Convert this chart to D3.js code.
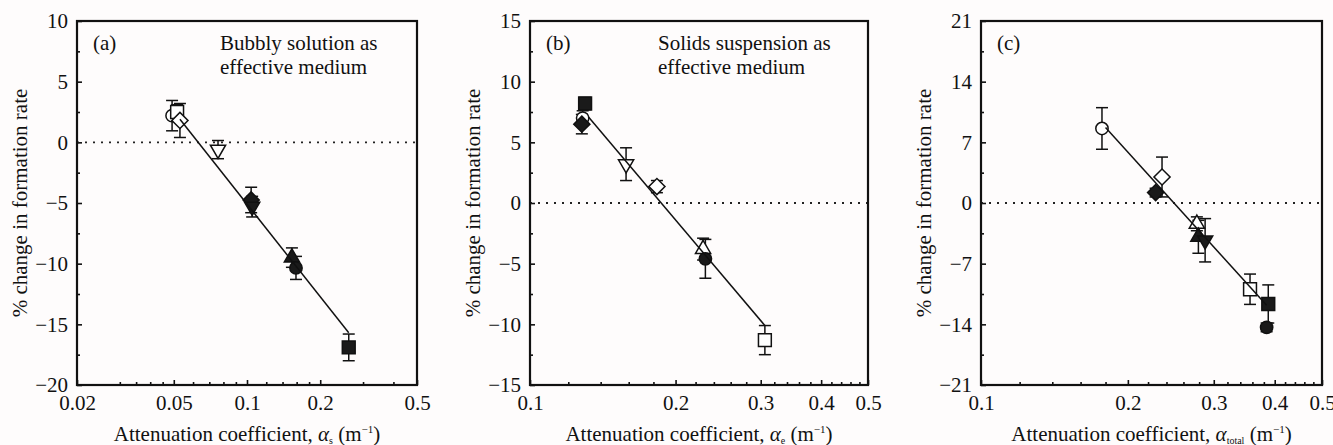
<!DOCTYPE html>
<html lang="en">
  <head>
    <meta charset="utf-8">
    <title>Formation rate vs attenuation</title>
    <script src="https://d3js.org/d3.v7.min.js"></script>
    <style>
      body { margin: 0; background: #fefcfc; }
    </style>
  </head>
  <body>
    <script>
      // panel (a): bubbly solution
      var aShape = ["oCircle", "oSquare", "oDiamond", "oTriDown", "fDiamond", "fTriDown", "fTriUp", "fCircle", "fSquare"],
          aX     = [0.0492, 0.0516, 0.053, 0.076, 0.104, 0.105, 0.153, 0.159, 0.262],
          aY     = [2.2, 2.5, 1.8, -0.6, -4.75, -5.3, -9.5, -10.35, -16.9],
          aErr   = [1.25, 0.6, 1.4, 0.75, 1.05, 0.85, 0.8, 0.95, 1.1],
          aFitX  = [0.053, 0.262],
          aFitY  = [1.9, -15.7];

      // panel (b): solids suspension
      var bShape = ["fSquare", "oCircle", "fDiamond", "oTriDown", "oDiamond", "oTriUp", "fCircle", "oSquare"],
          bX     = [0.130, 0.1285, 0.128, 0.158, 0.183, 0.228, 0.2305, 0.306],
          bY     = [8.2, 7.0, 6.5, 3.2, 1.35, -3.8, -4.6, -11.3],
          bErr   = [0.5, 0.6, 0.8, 1.35, 0.5, 0.9, 1.6, 1.2],
          bFitX  = [0.132, 0.306],
          bFitY  = [7.1, -10.1];

      // panel (c): total
      var cShape = ["oCircle", "oDiamond", "fDiamond", "oTriUp", "fTriUp", "fTriDown", "oSquare", "fSquare", "fCircle"],
          cX     = [0.177, 0.235, 0.228, 0.277, 0.279, 0.288, 0.356, 0.388, 0.385],
          cY     = [8.6, 3.0, 1.2, -2.4, -3.9, -4.3, -9.95, -11.65, -14.35],
          cErr   = [2.4, 2.3, 0.5, 0.8, 1.9, 2.5, 1.75, 2.2, 0.5],
          cFitX  = [0.18, 0.385],
          cFitY  = [8.7, -11.8];

      var aXTicks = [0.02, 0.05, 0.1, 0.2, 0.5],
          aXMinor = [0.03, 0.035, 0.04, 0.045, 0.06, 0.07, 0.08, 0.09, 0.12, 0.14, 0.16, 0.18, 0.3, 0.4],
          bXTicks = [0.1, 0.2, 0.3, 0.4, 0.5],
          bXMinor = [0.12, 0.14, 0.16, 0.18, 0.22, 0.24, 0.26, 0.28, 0.32, 0.34, 0.36, 0.38, 0.42, 0.44, 0.46, 0.48],
          aYTicks = [10, 5, 0, -5, -10, -15, -20],
          aYMinor = [7.5, 2.5, -2.5, -7.5, -12.5, -17.5],
          bYTicks = [15, 10, 5, 0, -5, -10, -15],
          bYMinor = [12.5, 7.5, 2.5, -2.5, -7.5, -12.5],
          cYTicks = [21, 14, 7, 0, -7, -14, -21],
          cYMinor = [17.5, 10.5, 3.5, -3.5, -10.5, -17.5];

      var width = 1333, height = 445,
          serif = "Liberation Serif",
          fs = 21;

      var svg = d3.select("body").append("svg")
          .attr("width", width)
          .attr("height", height)
          .attr("font-family", serif);

      var symbols = {
        Circle:  { type: d3.symbolCircle,   size: 120, rot: 0 },
        Square:  { type: d3.symbolSquare,   size: 165, rot: 0 },
        Diamond: { type: d3.symbolSquare,   size: 130, rot: 45 },
        TriUp:   { type: d3.symbolTriangle, size: 100, rot: 0 },
        TriDown: { type: d3.symbolTriangle, size: 100, rot: 180 }
      };

      function drawPanel(p) {
        var top = 21, bottom = 385;
        var x = d3.scaleLog().domain(p.xDomain).range([p.left, p.right]),
            y = d3.scaleLinear().domain(p.yDomain).range([bottom, top]);

        var g = svg.append("g");

        function tidy(s) {
          s.select(".domain").remove();
          s.attr("font-family", serif).attr("font-size", fs);
          s.selectAll("text").attr("font-family", serif).attr("font-size", fs).attr("fill", "#111");
        }

        // x axis, ticks pointing inside
        g.append("g")
            .attr("transform", "translate(0," + bottom + ")")
            .call(d3.axisBottom(x).tickValues(p.xMinor).tickSize(-3).tickFormat(""))
            .call(tidy);
        g.append("g")
            .attr("transform", "translate(0," + bottom + ")")
            .call(d3.axisBottom(x).tickValues(p.xTicks).tickSize(-5).tickPadding(10)
              .tickFormat(function(d) { return String(d); }))
            .call(tidy);

        // y axis
        g.append("g")
            .attr("transform", "translate(" + p.left + ",0)")
            .call(d3.axisLeft(y).tickValues(p.yMinor).tickSize(-3).tickFormat(""))
            .call(tidy);
        g.append("g")
            .attr("transform", "translate(" + p.left + ",0)")
            .call(d3.axisLeft(y).tickValues(p.yTicks).tickSize(-5).tickPadding(9))
            .call(tidy);

        g.selectAll(".tick line").attr("stroke", "#111").attr("stroke-width", 1.6);

        // zero line
        g.append("line")
            .attr("x1", p.left).attr("x2", p.right)
            .attr("y1", y(0)).attr("y2", y(0))
            .attr("stroke", "#222").attr("stroke-width", 1.8)
            .attr("stroke-dasharray", "2,6");

        // error bars
        var eb = g.append("g").attr("stroke", "#111").attr("stroke-width", 1.5);
        p.xs.forEach(function(xv, i) {
          var cx = x(xv), y0 = y(p.ys[i] + p.err[i]), y1 = y(p.ys[i] - p.err[i]);
          eb.append("line").attr("x1", cx).attr("x2", cx).attr("y1", y0).attr("y2", y1);
          eb.append("line").attr("x1", cx - 6).attr("x2", cx + 6).attr("y1", y0).attr("y2", y0);
          eb.append("line").attr("x1", cx - 6).attr("x2", cx + 6).attr("y1", y1).attr("y2", y1);
        });

        // markers
        g.append("g").selectAll("path")
            .data(p.shapes)
          .enter().append("path")
            .attr("d", function(s) { var m = symbols[s.slice(1)]; return d3.symbol().type(m.type).size(m.size)(); })
            .attr("transform", function(s, i) {
              var m = symbols[s.slice(1)];
              return "translate(" + x(p.xs[i]) + "," + y(p.ys[i]) + ")rotate(" + m.rot + ")";
            })
            .attr("fill", function(s) { return s[0] === "f" ? "#1a1a1a" : "#fff"; })
            .attr("stroke", "#111")
            .attr("stroke-width", 1.5);

        // fitted line
        g.append("path")
            .datum(p.fitX.map(function(v, i) { return [x(v), y(p.fitY[i])]; }))
            .attr("d", function(d) { return "M" + d.join("L"); })
            .attr("stroke", "#111").attr("stroke-width", 1.5).attr("fill", "none");

        // frame
        g.append("rect")
            .attr("x", p.left).attr("y", top)
            .attr("width", p.right - p.left).attr("height", bottom - top)
            .attr("fill", "none").attr("stroke", "#111").attr("stroke-width", 2.2);

        // labels
        g.append("text").attr("x", p.left + 16).attr("y", 50).attr("font-size", fs).attr("fill", "#111").text(p.tag);
        p.note.forEach(function(t, i) {
          g.append("text").attr("x", p.noteX).attr("y", 50 + i * 24).attr("font-size", fs).attr("fill", "#111").text(t);
        });

        g.append("text")
            .attr("transform", "translate(" + (p.left - 50) + "," + ((top + bottom) / 2) + ")rotate(-90)")
            .attr("text-anchor", "middle").attr("font-size", fs).attr("fill", "#111")
            .text("% change in formation rate");

        var xt = g.append("text")
            .attr("x", (p.left + p.right) / 2).attr("y", 441)
            .attr("text-anchor", "middle").attr("font-size", fs).attr("fill", "#111");
        xt.append("tspan").text("Attenuation coefficient, ");
        xt.append("tspan").attr("font-style", "italic").text("\u03b1");
        xt.append("tspan").attr("font-size", 10).attr("dy", 3).text(p.sub);
        xt.append("tspan").attr("dy", -3).text(" (m");
        xt.append("tspan").attr("font-size", 11).attr("dy", -8).text("\u22121");
        xt.append("tspan").attr("dy", 8).text(")");
      }

      drawPanel({
        left: 77, right: 417, xDomain: [0.02, 0.5], yDomain: [-20, 10],
        xTicks: aXTicks, xMinor: aXMinor, yTicks: aYTicks, yMinor: aYMinor,
        shapes: aShape, xs: aX, ys: aY, err: aErr, fitX: aFitX, fitY: aFitY,
        tag: "(a)", note: ["Bubbly solution as", "effective medium"], noteX: 220, sub: "s"
      });
      drawPanel({
        left: 530, right: 868, xDomain: [0.1, 0.5], yDomain: [-15, 15],
        xTicks: bXTicks, xMinor: bXMinor, yTicks: bYTicks, yMinor: bYMinor,
        shapes: bShape, xs: bX, ys: bY, err: bErr, fitX: bFitX, fitY: bFitY,
        tag: "(b)", note: ["Solids suspension as", "effective medium"], noteX: 658, sub: "e"
      });
      drawPanel({
        left: 981, right: 1322, xDomain: [0.1, 0.5], yDomain: [-21, 21],
        xTicks: bXTicks, xMinor: bXMinor, yTicks: cYTicks, yMinor: cYMinor,
        shapes: cShape, xs: cX, ys: cY, err: cErr, fitX: cFitX, fitY: cFitY,
        tag: "(c)", note: [], noteX: 0, sub: "total"
      });
    </script>
  </body>
</html>
